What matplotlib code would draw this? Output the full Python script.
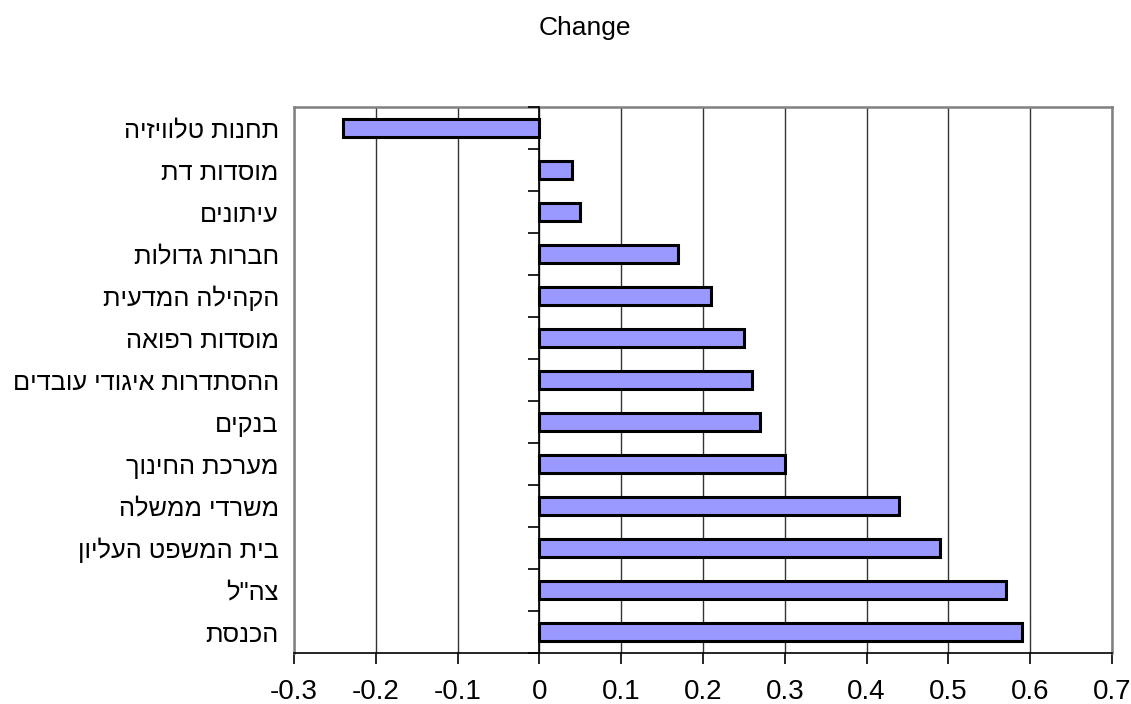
#!/usr/bin/env python3

import matplotlib
matplotlib.use("Agg")
import matplotlib.pyplot as plt
import numpy as np

plt.rcParams['font.family'] = ['Liberation Sans', 'DejaVu Sans']

# categories, top to bottom
labels = ['תחנות טלוויזיה', 'מוסדות דת', 'עיתונים', 'חברות גדולות',
          'הקהילה המדעית', 'מוסדות רפואה', 'ההסתדרות איגודי עובדים',
          'בנקים', 'מערכת החינוך', 'משרדי ממשלה', 'בית המשפט העליון',
          'צה"ל', 'הכנסת']
values = [-0.24, 0.04, 0.05, 0.17, 0.21, 0.25, 0.26, 0.27, 0.30,
          0.44, 0.49, 0.57, 0.59]
xticks = [-0.3, -0.2, -0.1, 0, 0.1, 0.2, 0.3, 0.4, 0.5, 0.6, 0.7]
xticklabels = ['-0.3', '-0.2', '-0.1', '0', '0.1', '0.2', '0.3', '0.4',
               '0.5', '0.6', '0.7']
title = 'Change'


def rtl(s):
    # matplotlib has no bidi support, flip the hebrew text
    return s[::-1]


fig = plt.figure(figsize=(11.31, 7.04), dpi=100)
ax = fig.add_axes([0.26, 0.0724, 0.7232, 0.7756])

ypos = np.arange(len(labels))
ax.barh(ypos, values, height=0.43, color='#9999FF', edgecolor='black',
        linewidth=2.2, zorder=3)

ax.set_ylim(len(labels) - 0.5, -0.5)
ax.set_xlim(xticks[0], xticks[-1])

ax.set_xticks(xticks)
ax.set_xticklabels(xticklabels, fontsize=20)
ax.tick_params(axis='x', direction='out', length=8, width=1.2,
               color='black', pad=11)

ax.set_yticks(ypos)
ax.set_yticklabels([rtl(l) for l in labels], fontsize=18.3)
ax.tick_params(axis='y', length=0, pad=11)

ax.grid(axis='x', color='#333333', linewidth=1.0, zorder=0)
ax.set_axisbelow(True)

for side in ['top', 'right', 'left']:
    ax.spines[side].set_color('#808080')
    ax.spines[side].set_linewidth(1.8)
ax.spines['bottom'].set_color('black')
ax.spines['bottom'].set_linewidth(1.2)

# category axis crossing at zero, with ticks between the categories
ax2 = ax.twinx()
ax2.set_ylim(ax.get_ylim())
for side in ['top', 'bottom', 'left']:
    ax2.spines[side].set_visible(False)
ax2.spines['right'].set_position(('data', 0))
ax2.spines['right'].set_color('black')
ax2.spines['right'].set_linewidth(1.2)
ax2.spines['right'].set_zorder(4)
ax2.set_yticks(np.arange(len(labels) + 1) - 0.5)
ax2.tick_params(axis='y', direction='in', length=8, width=1.2,
                labelright=False)

fig.text(0.517, 0.96, title, fontsize=19, ha='center', va='center')

fig.savefig('out.png', dpi=100)
